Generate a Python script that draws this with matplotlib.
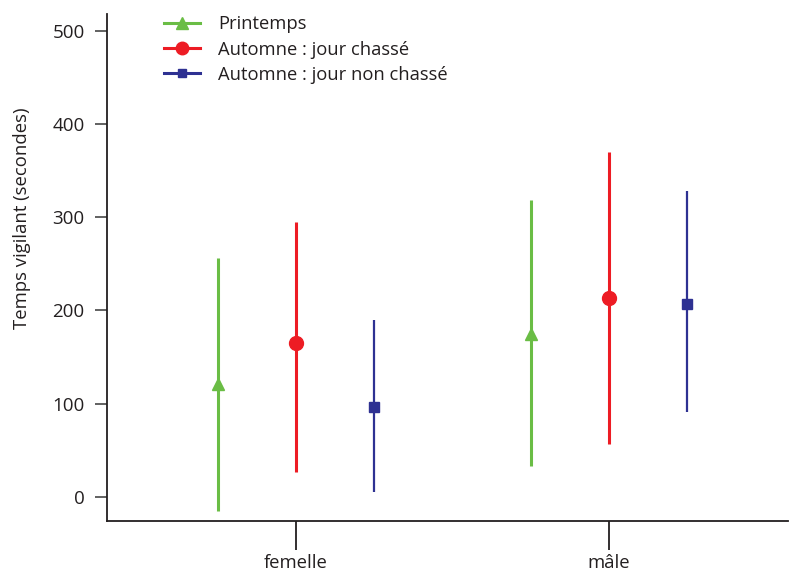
import matplotlib
matplotlib.use('Agg')
import matplotlib.pyplot as plt
import numpy as np
from matplotlib.lines import Line2D

plt.rcParams['font.family'] = ['Open Sans', 'DejaVu Sans']

# data
categories = ['femelle', 'mâle']
series = ['Printemps', 'Automne : jour chassé', 'Automne : jour non chassé']
means = [[121, 175], [165, 213], [97, 207]]
lows = [[-15, 33], [27, 57], [5, 91]]
highs = [[256, 318], [295, 370], [190, 328]]

COLORS = ['#6abd45', '#ed1c24', '#2e3192']
MARKERS = ['^', 'o', 's']
MSIZES = [9, 10, 7]
LWIDTHS = [2.2, 2.2, 1.6]
OFFSETS = [-0.25, 0.0, 0.25]
INK = '#231f20'

fig = plt.figure(figsize=(7.92, 5.71), dpi=100)
ax = fig.add_axes([0.135, 0.0876, 0.86, 0.888])

x = np.arange(1, len(categories) + 1)
for i, name in enumerate(series):
    xs = x + OFFSETS[i]
    m = np.array(means[i])
    lo = m - np.array(lows[i])
    hi = np.array(highs[i]) - m
    ax.errorbar(xs, m, yerr=[lo, hi], fmt=MARKERS[i], color=COLORS[i],
                ecolor=COLORS[i], elinewidth=LWIDTHS[i], capsize=0,
                markersize=MSIZES[i], label=name, linestyle='none')

ax.set_xlim(0.396, 2.572)
ax.set_ylim(-25.75, 518)
ax.set_xticks(x)
ax.set_xticklabels(categories)
ax.set_yticks([0, 100, 200, 300, 400, 500])
ax.set_ylabel('Temps vigilant (secondes)', fontsize=13.3, color=INK)
ax.yaxis.set_label_coords(-0.112, 0.598)

for s in ['top', 'right']:
    ax.spines[s].set_visible(False)
for s in ['left', 'bottom']:
    ax.spines[s].set_color(INK)
    ax.spines[s].set_linewidth(1.3)

ax.tick_params(axis='y', length=9, width=1.3, color='#555555', labelsize=13.5,
               labelcolor=INK, pad=7)
ax.tick_params(axis='x', length=21, width=1.3, color=INK, labelsize=13.3,
               labelcolor=INK, pad=3)

# legend with line+marker handles
handles = [Line2D([0], [0], color=COLORS[i], marker=MARKERS[i],
                  markersize=MSIZES[i] * 0.9, linewidth=2.2)
           for i in range(len(series))]
leg = ax.legend(handles, series, loc='upper left', bbox_to_anchor=(0.06, 1.03),
                frameon=False, fontsize=13.2, handlelength=1.95,
                handletextpad=1.0, labelspacing=0.4)
for t in leg.get_texts():
    t.set_color(INK)

fig.savefig('out.png', dpi=100)
